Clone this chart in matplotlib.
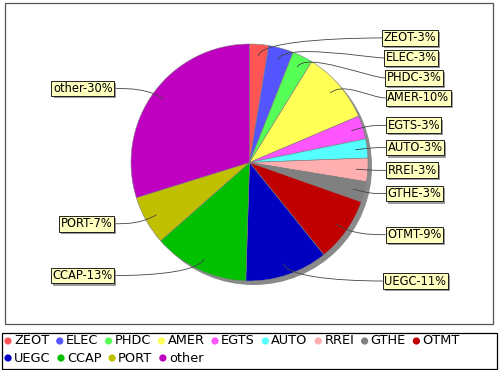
import numpy as np
import matplotlib
matplotlib.use('Agg')
import matplotlib.pyplot as plt
import matplotlib.patheffects as pe
from matplotlib.patches import Circle, Rectangle, PathPatch
from matplotlib.path import Path

names = ['ZEOT', 'ELEC', 'PHDC', 'AMER', 'EGTS', 'AUTO', 'RREI', 'GTHE',
         'OTMT', 'UEGC', 'CCAP', 'PORT', 'other']
shares = [2.6, 3.4, 2.8, 9.8, 3.2, 2.6, 3.2, 2.8, 8.8, 11.3, 13.0, 6.7, 29.8]
colors = ['#ff5555', '#5555ff', '#55ff55', '#ffff55', '#ff55ff', '#55ffff',
          '#ffafaf', '#808080', '#c00000', '#0000c0', '#00c000', '#c0c000', '#c000c0']

# the axes is laid out in pixels, y pointing down
fig = plt.figure(figsize=(5, 3.7), dpi=100)
ax = fig.add_axes([0, 0, 1, 1])
cx, cy, R = 249.5, 162.5, 118.5

ax.add_patch(Circle((cx + 4, cy + 4), R, color='#8a8a8a', lw=0, zorder=0.5))
wedges, _ = ax.pie(shares, colors=colors, startangle=-90, counterclock=True,
                   radius=R, center=(cx, cy),
                   wedgeprops=dict(edgecolor='#808080', linewidth=0.4))
ax.set_xlim(0, 500)
ax.set_ylim(370, 0)
ax.set_aspect('equal')
ax.axis('off')

# plot frame
ax.add_patch(Rectangle((5, 2.5), 487.5, 321.5, fill=False, ec='#555555', lw=0.9))

# section labels, pushed apart on each side like jfreechart does
total = sum(shares)
recs = []
for i, w in enumerate(wedges):
    th = np.deg2rad((w.theta1 + w.theta2) / 2)
    recs.append(dict(i=i, th=th, y=cy + 125 * np.sin(th), right=np.cos(th) >= 0))

for side in (True, False):
    grp = sorted([r for r in recs if r['right'] == side], key=lambda r: r['y'])
    prev = -1e9
    for r in grp:
        r['y'] = max(r['y'], prev + 20)
        prev = r['y']

for r in recs:
    i, th, y = r['i'], r['th'], r['y']
    txt = '%s-%d%%' % (names[i], round(shares[i] / total * 100))
    if r['right']:
        edge = 386 - 4 * ((y - cy) / 125) ** 4
        t = ax.text(edge + 1.5, y, txt, ha='left', va='center', fontsize=8.3, zorder=5)
        p2 = (edge - 15, y)
    else:
        edge = 114
        t = ax.text(edge - 1.5, y, txt, ha='right', va='center', fontsize=8.3, zorder=5)
        p2 = (edge + 15, y)
    t.set_bbox(dict(boxstyle='square,pad=0.12', fc='#ffffc0', ec='black', lw=0.6))
    t.get_bbox_patch().set_path_effects([
        pe.SimplePatchShadow(offset=(1.5, -1.5), shadow_rgbFace='#9a9a9a', alpha=1),
        pe.Normal()])
    d = np.array([np.cos(th), np.sin(th)])
    p0 = np.array([cx, cy]) + 0.9 * R * d
    p1 = np.array([cx, cy]) + 1.05 * R * d
    link = Path([p0, p1, p2, (edge, y)], [Path.MOVETO, Path.CURVE4, Path.CURVE4, Path.CURVE4])
    ax.add_patch(PathPatch(link, fill=False, ec='#444444', lw=0.6, zorder=4))

# legend, flow layout
ax.add_patch(Rectangle((1.5, 333), 495.5, 35.5, fill=False, ec='black', lw=0.9))
renderer = fig.canvas.get_renderer()
rows = [341, 358]
row = 0
x = 8
for i, name in enumerate(names):
    t = ax.text(x + 6, rows[row], name, ha='left', va='center', fontsize=9.3)
    w = t.get_window_extent(renderer).width
    if x + 6 + w > 494:
        row += 1
        x = 8
        t.set_position((x + 6, rows[row]))
    ax.add_patch(Circle((x, rows[row]), 3.6, color=colors[i], lw=0))
    x = x + 6 + w + 10.5

plt.savefig('out.png', dpi=100)
plt.close()
